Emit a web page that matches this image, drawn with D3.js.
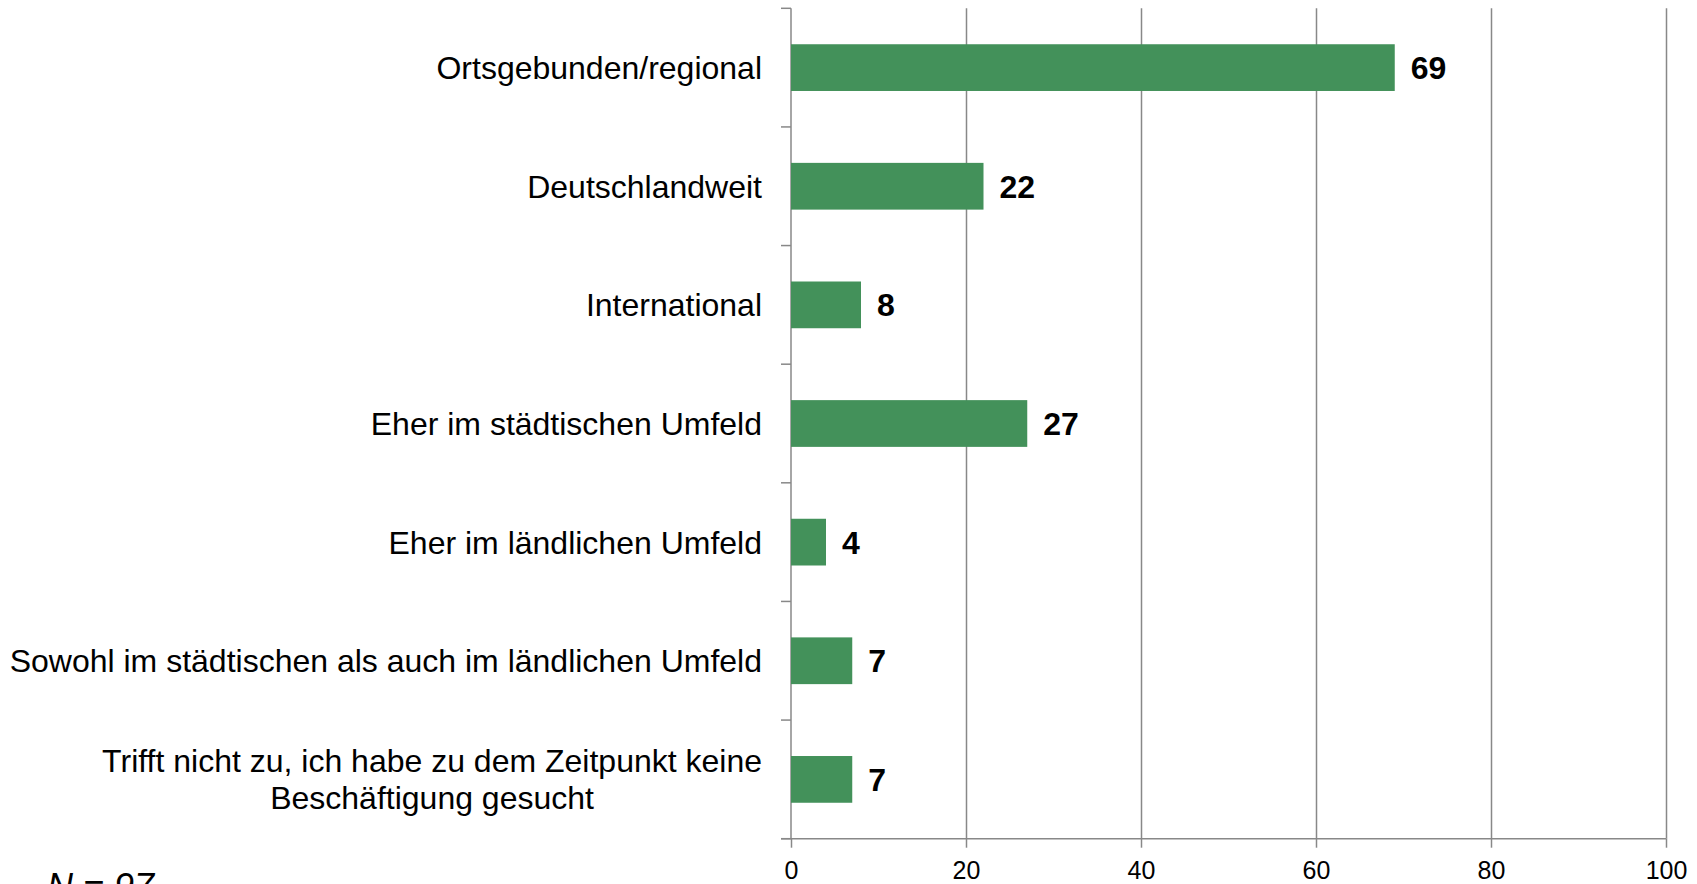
<!DOCTYPE html>
<html>
<head>
<meta charset="utf-8">
<script src="https://cdn.jsdelivr.net/npm/d3@7/dist/d3.min.js"></script>
<style>
  html, body { margin: 0; padding: 0; background: #fff; }
  svg { display: block; font-family: "Liberation Sans", Arial, sans-serif; }
</style>
</head>
<body>
<svg id="chart" width="1697" height="884"></svg>
<script>
// Categories (top to bottom), lines separated by "\n"
const categories = [
  "Ortsgebunden/regional",
  "Deutschlandweit",
  "International",
  "Eher im städtischen Umfeld",
  "Eher im ländlichen Umfeld",
  "Sowohl im städtischen als auch im ländlichen Umfeld",
  "Trifft nicht zu, ich habe zu dem Zeitpunkt keine\nBeschäftigung gesucht"
];
// Share of respondents in percent
const values = [69, 22, 8, 27, 4, 7, 7];
// Value axis ticks
const xTicks = [0, 20, 40, 60, 80, 100];
const sampleNote = "N = 97";

const svg = d3.select("#chart");
const plotLeft = 791, plotRight = 1666, plotTop = 8.3, plotBottom = 838.7;
const gridColor = "#888888";
const barColor = "#43915a";

const x = d3.scaleLinear().domain([0, 100]).range([plotLeft, plotRight]);
const y = d3.scaleBand().domain(categories).range([plotTop, plotBottom])
  .paddingInner(0.606).paddingOuter(0.303);

// vertical gridlines
svg.append("g")
  .attr("transform", `translate(0,${plotBottom})`)
  .call(d3.axisBottom(x).tickValues(xTicks.slice(1)).tickSize(-(plotBottom - plotTop)).tickFormat(""))
  .call(g => g.select(".domain").remove())
  .call(g => g.selectAll("line").attr("stroke", gridColor).attr("stroke-width", 1.5));

// x axis with tick labels
svg.append("g")
  .attr("transform", `translate(0,${plotBottom})`)
  .call(d3.axisBottom(x).tickValues(xTicks).tickSize(9).tickPadding(14))
  .call(g => g.select(".domain").remove())
  .call(g => g.selectAll("line").attr("stroke", gridColor).attr("stroke-width", 1.5))
  .call(g => g.selectAll("text")
    .attr("font-size", 25).attr("fill", "#000")
    .attr("font-family", "'Liberation Sans', Arial, sans-serif"));

// baseline of value axis
svg.append("line")
  .attr("x1", plotLeft - 10).attr("x2", plotRight)
  .attr("y1", plotBottom).attr("y2", plotBottom)
  .attr("stroke", gridColor).attr("stroke-width", 1.5);

// category axis line and boundary ticks
svg.append("line")
  .attr("x1", plotLeft).attr("x2", plotLeft)
  .attr("y1", plotTop).attr("y2", plotBottom)
  .attr("stroke", gridColor).attr("stroke-width", 1.5);
const step = y.step();
const boundaries = d3.range(categories.length + 1).map(i => plotTop + i * step);
svg.append("g").selectAll("line").data(boundaries).join("line")
  .attr("x1", plotLeft - 10).attr("x2", plotLeft)
  .attr("y1", d => d).attr("y2", d => d)
  .attr("stroke", gridColor).attr("stroke-width", 1.5);

// bars
svg.append("g").selectAll("rect").data(values).join("rect")
  .attr("x", x(0))
  .attr("y", (d, i) => y(categories[i]))
  .attr("width", d => x(d) - x(0))
  .attr("height", y.bandwidth())
  .attr("fill", barColor);

// value labels
svg.append("g").selectAll("text").data(values).join("text")
  .attr("x", d => x(d) + 16)
  .attr("y", (d, i) => y(categories[i]) + y.bandwidth() / 2 + 11.5)
  .attr("font-size", 32).attr("font-weight", "bold").attr("fill", "#000")
  .text(d => d);

// category labels, multi-line labels centred within a right-aligned block
const labelRight = 762, lineGap = 37;
const labels = svg.append("g");
categories.forEach(cat => {
  const lines = cat.split("\n");
  const cy = y(cat) + y.bandwidth() / 2;
  const g = labels.append("g");
  const texts = lines.map((ln, j) => g.append("text")
    .attr("y", cy + 11.6 + (j - (lines.length - 1) / 2) * lineGap)
    .attr("font-size", 32).attr("fill", "#000")
    .text(ln));
  const maxW = d3.max(texts, t => t.node().getComputedTextLength());
  texts.forEach(t => t.attr("x", labelRight - maxW / 2).attr("text-anchor", "middle"));
});

// sample size note
svg.append("text")
  .attr("x", 47).attr("y", 899)
  .attr("font-size", 36).attr("font-style", "italic").attr("fill", "#000")
  .text(sampleNote);
</script>
</body>
</html>
